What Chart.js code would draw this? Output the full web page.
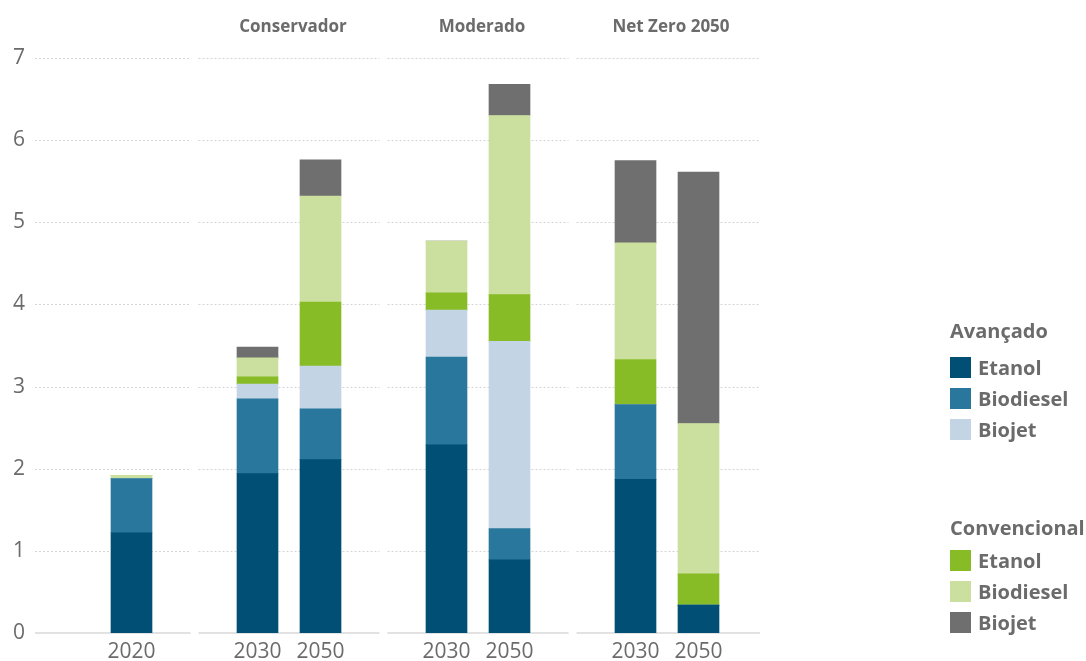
<!DOCTYPE html>
<html>
<head>
<meta charset="utf-8">
<script src="https://cdn.jsdelivr.net/npm/chart.js@4/dist/chart.umd.min.js"></script>
<style>
  html, body { margin: 0; padding: 0; background: #fff; }
  #wrap { position: relative; width: 1086px; height: 661px; overflow: hidden; }
  canvas { position: absolute; left: 0; top: 0; }
  .lg { position: absolute; left: 950px; font-family: "Open Sans", sans-serif; font-weight: 700; font-size: 20px; color: #6b6b6b; line-height: 21px; height: 21px; display: flex; align-items: center; white-space: nowrap; }
  .sw { width: 21px; height: 21px; margin-right: 7px; flex: none; }
</style>
</head>
<body>
<div id="wrap">
  <canvas id="c" width="1086" height="661"></canvas>
  <div id="legend"></div>
</div>
<script>
// ---- Data ----
const barLabels = ['2020', '2030', '2050', '2030', '2050', '2030', '2050'];
const barGroups = [null, 'Conservador', 'Conservador', 'Moderado', 'Moderado', 'Net Zero 2050', 'Net Zero 2050'];
const groupTitles = ['Conservador', 'Moderado', 'Net Zero 2050'];
const yTicks = [0, 1, 2, 3, 4, 5, 6, 7];

const avEtanol    = [1.22, 1.94, 2.11, 2.29, 0.89, 1.87, 0.34];
const avBiodiesel = [0.66, 0.91, 0.62, 1.07, 0.38, 0.91, 0.00];
const avBiojet    = [0.00, 0.18, 0.52, 0.57, 2.28, 0.00, 0.00];
const cvEtanol    = [0.00, 0.09, 0.78, 0.21, 0.57, 0.55, 0.38];
const cvBiodiesel = [0.04, 0.23, 1.29, 0.63, 2.18, 1.42, 1.83];
const cvBiojet    = [0.00, 0.13, 0.44, 0.00, 0.38, 1.00, 3.06];

const legendGroups = [
  { title: 'Avançado', items: ['Etanol', 'Biodiesel', 'Biojet'] },
  { title: 'Convencional', items: ['Etanol', 'Biodiesel', 'Biojet'] }
];

// ---- Styles ----
const colors = ['#014f74', '#2a779d', '#c3d5e4', '#88bc26', '#cbdf9e', '#6f6f6f'];
const textColor = '#6b6b6b';

// Build category axis with blank spacer slots between facets
const labels = [];
const slotIndex = [];
const spacerSlots = [];
labels.push(''); // leading spacer
barLabels.forEach((lab, i) => {
  if (i > 0 && barGroups[i] !== barGroups[i - 1]) { spacerSlots.push(labels.length); labels.push(''); }
  slotIndex.push(labels.length);
  labels.push(lab);
});
function pad(arr) {
  const out = labels.map(() => null);
  arr.forEach((v, i) => { out[slotIndex[i]] = v; });
  return out;
}
const seriesNames = ['Avançado Etanol', 'Avançado Biodiesel', 'Avançado Biojet', 'Convencional Etanol', 'Convencional Biodiesel', 'Convencional Biojet'];
const seriesData = [avEtanol, avBiodiesel, avBiojet, cvEtanol, cvBiodiesel, cvBiojet];
const datasets = seriesData.map((d, k) => ({
  label: seriesNames[k],
  data: pad(d),
  backgroundColor: colors[k],
  borderWidth: 0,
  barThickness: 41,
  stack: 's'
}));

const LEFT_EXT = 2;
const RIGHT_EXT = 30;
const GAP = 8;

const gridPlugin = {
  id: 'segGrid',
  beforeDatasetsDraw(chart) {
    const { ctx, chartArea, scales } = chart;
    const x = scales.x, y = scales.y;
    const left = chartArea.left - LEFT_EXT, right = chartArea.right + RIGHT_EXT;
    const gaps = spacerSlots.map(s => x.getPixelForValue(s));
    const segs = [];
    let start = left;
    gaps.forEach(g => { segs.push([start, g - GAP / 2]); start = g + GAP / 2; });
    segs.push([start, right]);
    ctx.save();
    yTicks.forEach(t => {
      const py = Math.round(y.getPixelForValue(t));
      if (t === 0) {
        ctx.setLineDash([]);
        ctx.strokeStyle = '#e2e2e2';
        ctx.lineWidth = 2;
      } else {
        ctx.setLineDash([2, 2]);
        ctx.strokeStyle = '#d4d4d4';
        ctx.lineWidth = 1;
      }
      segs.forEach(([a, b]) => {
        ctx.beginPath();
        ctx.moveTo(a, py + (t === 0 ? 0 : 0.5));
        ctx.lineTo(b, py + (t === 0 ? 0 : 0.5));
        ctx.stroke();
      });
    });
    ctx.restore();
  },
  afterDraw(chart) {
    const { ctx, scales } = chart;
    const x = scales.x;
    ctx.save();
    ctx.fillStyle = textColor;
    ctx.font = '700 17px "Open Sans", sans-serif';
    ctx.textAlign = 'center';
    ctx.textBaseline = 'middle';
    groupTitles.forEach(g => {
      const idx = barGroups.map((b, i) => b === g ? i : -1).filter(i => i >= 0);
      const px = idx.map(i => x.getPixelForValue(slotIndex[i]));
      const cx = (Math.min(...px) + Math.max(...px)) / 2 + 4;
      ctx.fillText(g, cx, 27);
    });
    ctx.restore();
  }
};

new Chart(document.getElementById('c'), {
  type: 'bar',
  data: { labels, datasets },
  options: {
    responsive: false,
    animation: false,
    events: [],
    layout: { padding: { left: 0, right: 356, top: 58, bottom: 0 } },
    plugins: { legend: { display: false }, tooltip: { enabled: false } },
    scales: {
      x: {
        stacked: true,
        grid: { display: false, drawTicks: false },
        border: { display: false },
        ticks: { color: textColor, font: { family: 'Open Sans', size: 21 }, padding: 6, maxRotation: 0, autoSkip: false },
        afterFit(s) { s.height = 28; }
      },
      y: {
        stacked: true,
        min: 0, max: 7,
        afterBuildTicks(s) { s.ticks = yTicks.map(v => ({ value: v })); },
        grid: { display: false, drawTicks: false },
        border: { display: false },
        ticks: { color: textColor, font: { family: 'Open Sans', size: 21 }, padding: 12 },
        afterFit(s) { s.width = 37; }
      }
    }
  },
  plugins: [gridPlugin]
});

// ---- HTML legend ----
const legendEl = document.getElementById('legend');
const legendTops = [[320, 357, 388, 419], [517, 550, 581, 612]];
legendGroups.forEach((g, gi) => {
  const h = document.createElement('div');
  h.className = 'lg';
  h.style.top = legendTops[gi][0] + 'px';
  h.textContent = g.title;
  legendEl.appendChild(h);
  g.items.forEach((it, ii) => {
    const r = document.createElement('div');
    r.className = 'lg';
    r.style.top = legendTops[gi][ii + 1] + 'px';
    const sw = document.createElement('span');
    sw.className = 'sw';
    sw.style.background = colors[gi * 3 + ii];
    const t = document.createElement('span');
    t.textContent = it;
    r.appendChild(sw); r.appendChild(t);
    legendEl.appendChild(r);
  });
});
</script>
</body>
</html>
